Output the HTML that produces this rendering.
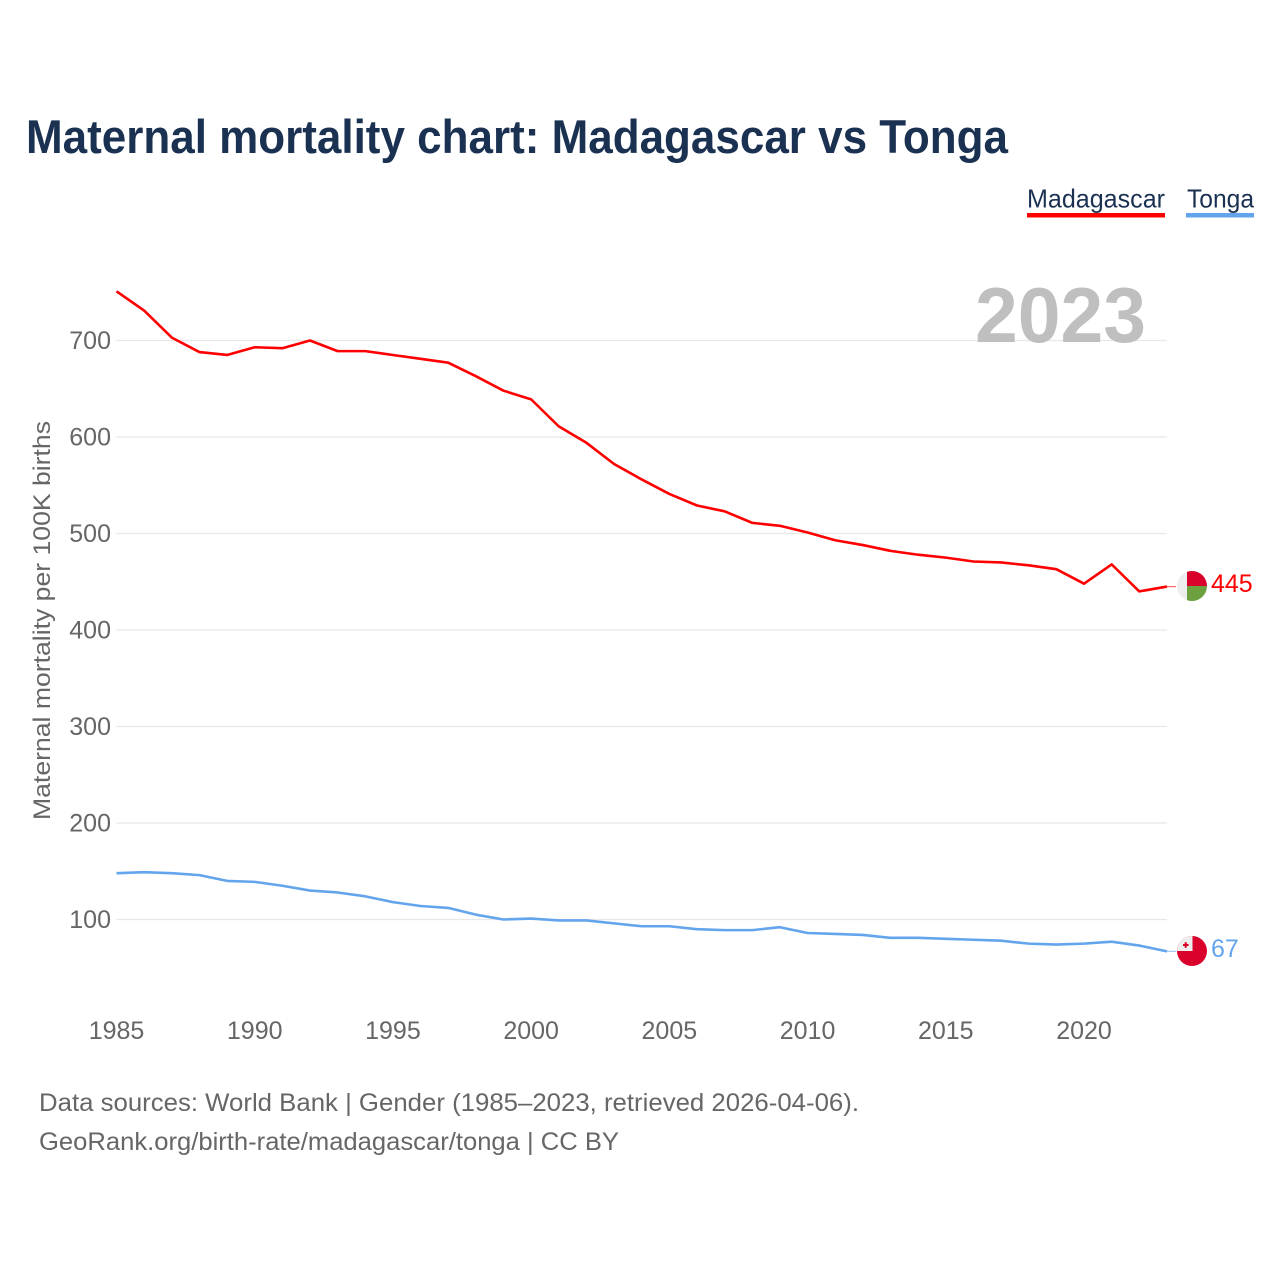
<!DOCTYPE html>
<html lang="en">
<head>
<meta charset="utf-8">
<title>Maternal mortality chart: Madagascar vs Tonga</title>
<style>
html,body{margin:0;padding:0;background:#fff;width:1280px;height:1280px;overflow:hidden}
svg{display:block}
text{font-family:"Liberation Sans",sans-serif}
</style>
</head>
<body>
<svg id="chart" width="1280" height="1280" viewBox="0 0 1280 1280" xmlns="http://www.w3.org/2000/svg">
  <defs>
    <clipPath id="clip-mg"><circle cx="1192" cy="586" r="15"></circle></clipPath>
    <clipPath id="clip-to"><circle cx="1192" cy="951" r="15"></circle></clipPath>
  </defs>
  <rect width="1280" height="1280" fill="#fff"></rect>
  <text x="26" y="153" font-size="47" font-weight="700" fill="#1a3152" textLength="982" lengthAdjust="spacingAndGlyphs">Maternal mortality chart: Madagascar vs Tonga</text>

  <g>
    <g>
      <text x="1027" y="207.5" font-size="26" fill="#1a3152" textLength="138" lengthAdjust="spacingAndGlyphs">Madagascar</text>
      <rect x="1027" y="213" width="138" height="4.5" fill="#ff0000"></rect>
    </g>
    <g>
      <text x="1187" y="207.5" font-size="26" fill="#1a3152" textLength="67" lengthAdjust="spacingAndGlyphs">Tonga</text>
      <rect x="1186" y="213" width="68" height="4.5" fill="#63a5ec"></rect>
    </g>
  </g>

  <g id="grid"></g>
  <text x="975" y="342" font-size="78" font-weight="700" fill="#bfbfbf" textLength="171" lengthAdjust="spacingAndGlyphs">2023</text>
  <g id="y-ticks"></g>
  <g id="x-ticks"></g>
  <text transform="translate(50,820) rotate(-90)" font-size="24" fill="#666666" textLength="399" lengthAdjust="spacingAndGlyphs">Maternal mortality per 100K births</text>
  <g id="series"></g>

  <g clip-path="url(#clip-mg)">
    <rect x="1177" y="571" width="10" height="30" fill="#eeeeee"></rect>
    <rect x="1187" y="571" width="20" height="15" fill="#d9002b"></rect>
    <rect x="1187" y="586" width="20" height="15" fill="#6da13f"></rect>
  </g>
  <g clip-path="url(#clip-to)">
    <rect x="1177" y="936" width="30" height="30" fill="#d9002b"></rect>
    <rect x="1177" y="936" width="15.5" height="15" fill="#eeeeee"></rect>
    <rect x="1184.7" y="942.2" width="2" height="5.6" fill="#d9002b"></rect>
    <rect x="1183" y="944" width="5.6" height="2" fill="#d9002b"></rect>
  </g>
  <g id="end-labels"></g>

  <text x="39" y="1111" font-size="25" fill="#666666" textLength="820" lengthAdjust="spacingAndGlyphs">Data sources: World Bank | Gender (1985–2023, retrieved 2026-04-06).</text>
  <text x="39" y="1150" font-size="25" fill="#666666" textLength="580" lengthAdjust="spacingAndGlyphs">GeoRank.org/birth-rate/madagascar/tonga | CC BY</text>
</svg>
<script>
const firstYear = 1985;
const madagascar = [751,731,703,688,685,693,692,700,689,689,685,681,677,663,648,639,611,594,572,556,541,529,523,511,508,501,493,488,482,478,475,471,470,467,463,448,468,440,445];
const tonga = [148,149,148,146,140,139,135,130,128,124,118,114,112,105,100,101,99,99,96,93,93,90,89,89,92,86,85,84,81,81,80,79,78,75,74,75,77,73,67];
const yTickValues = [100,200,300,400,500,600,700];
const xTickValues = [1985,1990,1995,2000,2005,2010,2015,2020];

const NS = 'http://www.w3.org/2000/svg';
function xScale(year){ return 116.5 + (year - 1985) * (1084 - 116.5) / 35; }
function yScale(v){ return 919.5 - (v - 100) * (919.5 - 340.5) / 600; }
function make(tag, parent, attrs){
  const el = document.createElementNS(NS, tag);
  for (const k in attrs) el.setAttribute(k, attrs[k]);
  parent.appendChild(el);
  return el;
}
const grid = document.getElementById('grid');
const yTicks = document.getElementById('y-ticks');
const xTicks = document.getElementById('x-ticks');
const seriesGroup = document.getElementById('series');
const endLabels = document.getElementById('end-labels');
const lastX = xScale(firstYear + madagascar.length - 1);

yTickValues.forEach(function(v){
  const line = make('line', grid, {x1: 116.5, x2: lastX, y1: yScale(v), y2: yScale(v), stroke: '#e8e8e8', 'stroke-width': 1.3});
  
  
  const t = make('text', yTicks, {x: 111, y: yScale(v) + 8.5, 'text-anchor': 'end', 'font-size': 25, fill: '#666666'});
  t.textContent = v;
  
  
});
xTickValues.forEach(function(yr){
  const t = make('text', xTicks, {x: xScale(yr), y: 1039, 'text-anchor': 'middle', 'font-size': 25, fill: '#666666'});
  t.textContent = yr;
  
  
});
function drawSeries(values, color, key){
  const pts = values.map(function(v, i){ return xScale(firstYear + i).toFixed(2) + ',' + yScale(v).toFixed(2); }).join(' ');
  const poly = make('polyline', seriesGroup, {points: pts, fill: 'none', stroke: color, 'stroke-width': 2.6, 'stroke-linejoin': 'round'});
  
  
  const endV = values[values.length - 1];
  const conn = make('line', seriesGroup, {x1: lastX, x2: lastX + 9, y1: yScale(endV), y2: yScale(endV), stroke: color, 'stroke-width': 1.2, opacity: 0.6});
  
  
  const lab = make('text', endLabels, {x: 1211, y: yScale(endV) + 5.5, 'font-size': 25, fill: color});
  lab.textContent = endV;
  
  
}
drawSeries(madagascar, '#ff0000', 'madagascar');
drawSeries(tonga, '#63a5ec', 'tonga');
</script>
</body>
</html>
